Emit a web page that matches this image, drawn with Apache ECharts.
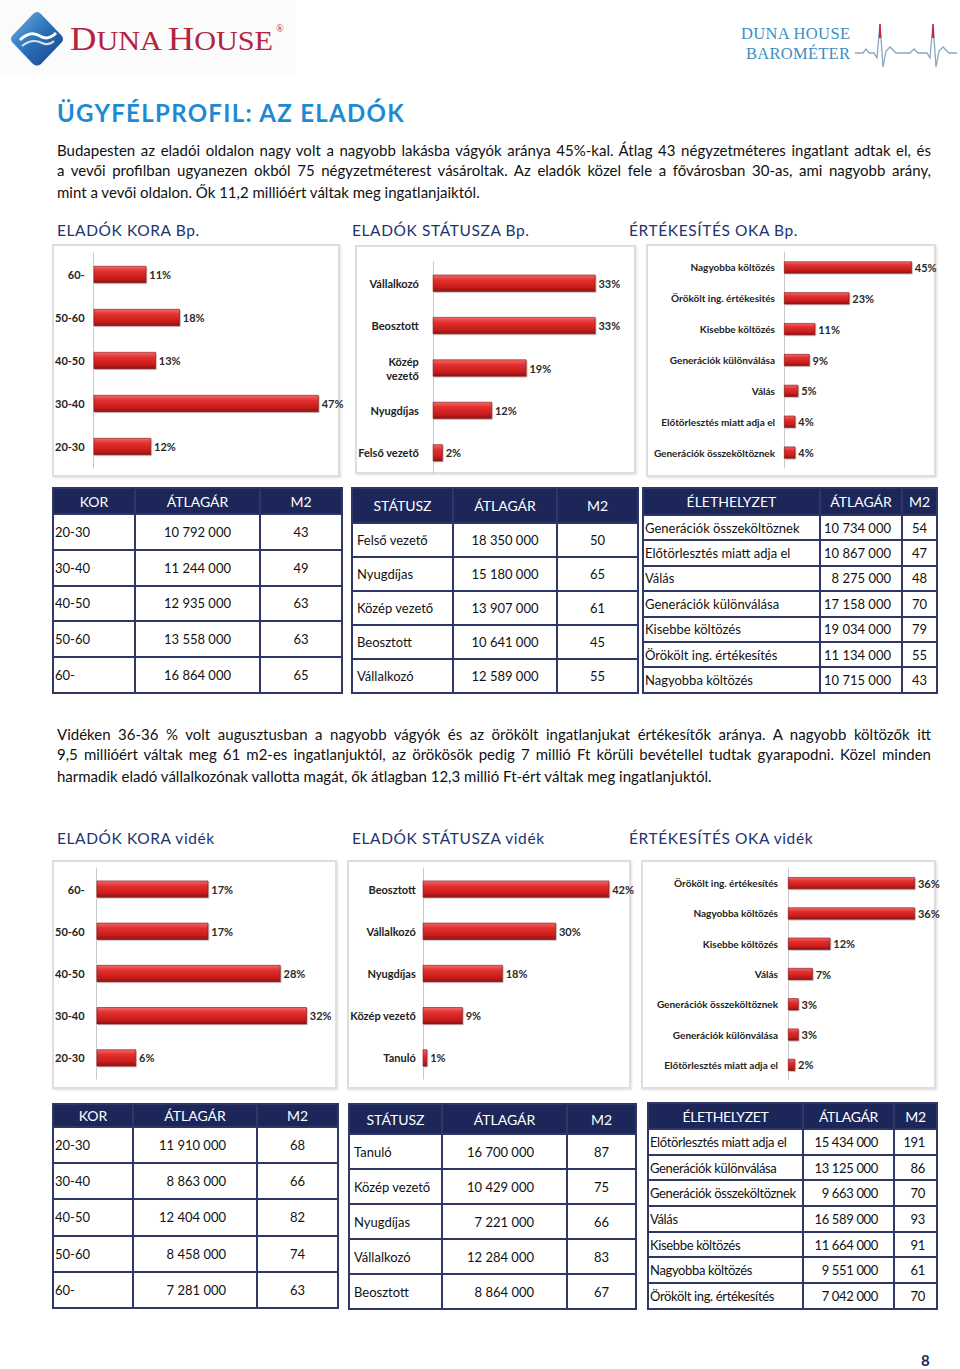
<!DOCTYPE html>
<html><head><meta charset="utf-8">
<script src="https://cdn.jsdelivr.net/npm/echarts@6/dist/echarts.min.js"></script>
<style>
html,body{margin:0;padding:0;background:#fff;}
body{width:960px;height:1369px;position:relative;overflow:hidden;font-family:Lato,"Open Sans",sans-serif;color:#111;}
.abs{position:absolute;}
.line{position:absolute;left:57px;width:874px;font-size:15px;line-height:21px;height:21px;white-space:nowrap;text-align:justify;text-align-last:justify;}
.line.last{text-align-last:left;}
.sec{position:absolute;font-size:15.5px;line-height:18px;color:#22336e;white-space:nowrap;letter-spacing:0.6px;}
.panel{position:absolute;border:2px solid #dedede;box-sizing:border-box;box-shadow:1px 1px 2px rgba(0,0,0,0.12);background:#fff;}
.chart{position:absolute;}
table.t{position:absolute;border-collapse:collapse;table-layout:fixed;font-size:13px;color:#111;}
table.t td,table.t th{border:2px solid #2e3765;padding:0;white-space:nowrap;overflow:visible;}
table.t th{background:#1c2659;color:#fff;font-weight:normal;font-size:14px;text-align:center;}
</style></head>
<body>
<!-- header logos -->
<div class="abs" style="left:0;top:0;width:296px;height:76px;background:#fbfbfb;"></div>
<svg class="abs" style="left:0;top:0" width="960" height="80">
  <defs>
    <linearGradient id="dg" x1="0" y1="0" x2="1" y2="1">
      <stop offset="0" stop-color="#6fb2e6"/><stop offset="0.5" stop-color="#2a6fb8"/><stop offset="1" stop-color="#173f86"/>
    </linearGradient>
  </defs>
  <path d="M37,12 Q39,12 41,14 L62,36 Q64,39 62,42 L41,64 Q37,67 33,64 L12,42 Q10,39 12,36 L33,14 Q35,12 37,12 Z" fill="url(#dg)"/>
  <path d="M20,40 Q30,30 40,36 Q48,41 56,33" stroke="#fff" stroke-width="3" fill="none"/>
  <path d="M22,46 Q32,38 42,43 Q49,46 54,41" stroke="#fff" stroke-width="2" fill="none" opacity="0.8"/>
  <text x="70" y="50" font-family="'Liberation Serif','DejaVu Serif',serif" fill="#b3243f" textLength="203" lengthAdjust="spacingAndGlyphs"><tspan font-size="34">D</tspan><tspan font-size="28">UNA </tspan><tspan font-size="34">H</tspan><tspan font-size="28">OUSE</tspan></text>
  <text x="276" y="32" font-family="'Liberation Serif',serif" font-size="10" fill="#b3243f">®</text>
  <text x="741" y="39" font-family="'Liberation Serif','DejaVu Serif',serif" font-size="16.5" fill="#3b8fc2" textLength="109">DUNA HOUSE</text>
  <text x="746" y="59" font-family="'Liberation Serif','DejaVu Serif',serif" font-size="16.5" fill="#3b8fc2" textLength="104">BAROMÉTER</text>
  <path d="M855,53 L863,53 L866,49 L869,53 L874,53 L877,58 L880,24 L883,67 L886,51 L890,47 L896,53 L910,53 L914,49 L918,53 L927,53 L930,58 L933,24 L936,67 L939,51 L943,47 L949,53 L957,53" stroke="#8aa6bf" stroke-width="1.3" fill="none"/>
  <path d="M879.5,38 L880,24 L880.6,38" stroke="#c8283c" stroke-width="1.5" fill="none"/>
  <path d="M932.5,38 L933,24 L933.6,38" stroke="#c8283c" stroke-width="1.5" fill="none"/>
</svg>

<div class="abs" style="left:57px;top:98px;font-size:24px;line-height:30px;font-weight:bold;color:#1d8ad2;white-space:nowrap;letter-spacing:1.3px;">ÜGYFÉLPROFIL: AZ ELADÓK</div>

<div class="line" style="top:140px">Budapesten az eladói oldalon nagy volt a nagyobb lakásba vágyók aránya 45%-kal. Átlag 43 négyzetméteres ingatlant adtak el, és</div>
<div class="line" style="top:160px">a vevői profilban ugyanezen okból 75 négyzetméterest vásároltak. Az eladók közel fele a fővárosban 30-as, ami nagyobb arány,</div>
<div class="line last" style="top:182px">mint a vevői oldalon. Ők 11,2 millióért váltak meg ingatlanjaiktól.</div>

<div class="sec" style="left:57px;top:221px">ELADÓK KORA Bp.</div>
<div class="sec" style="left:352px;top:221px">ELADÓK STÁTUSZA Bp.</div>
<div class="sec" style="left:629px;top:221px">ÉRTÉKESÍTÉS OKA Bp.</div>

<div class="panel" style="left:52px;top:244px;width:288px;height:233px"></div>
<div class="panel" style="left:355px;top:245px;width:281px;height:229px"></div>
<div class="panel" style="left:646px;top:244px;width:290px;height:233px"></div>
<div id="c1" class="chart" style="left:52px;top:244px;width:318px;height:233px"></div>
<div id="c2" class="chart" style="left:355px;top:245px;width:311px;height:229px"></div>
<div id="c3" class="chart" style="left:646px;top:244px;width:312px;height:233px"></div>

<div id="tables"></div>

<div class="line" style="top:724px">Vidéken 36-36 % volt augusztusban a nagyobb vágyók és az örökölt ingatlanjukat értékesítők aránya. A nagyobb költözők itt</div>
<div class="line" style="top:744px">9,5 millióért váltak meg 61 m2-es ingatlanjuktól, az örökösök pedig 7 millió Ft körüli bevétellel tudtak gyarapodni. Közel minden</div>
<div class="line last" style="top:766px">harmadik eladó vállalkozónak vallotta magát, ők átlagban 12,3 millió Ft-ért váltak meg ingatlanjuktól.</div>

<div class="sec" style="left:57px;top:829px">ELADÓK KORA vidék</div>
<div class="sec" style="left:352px;top:829px">ELADÓK STÁTUSZA vidék</div>
<div class="sec" style="left:629px;top:829px">ÉRTÉKESÍTÉS OKA vidék</div>

<div class="panel" style="left:52px;top:860px;width:285px;height:229px"></div>
<div class="panel" style="left:347px;top:860px;width:284px;height:229px"></div>
<div class="panel" style="left:641px;top:860px;width:295px;height:229px"></div>
<div id="c4" class="chart" style="left:52px;top:860px;width:315px;height:229px"></div>
<div id="c5" class="chart" style="left:347px;top:860px;width:314px;height:229px"></div>
<div id="c6" class="chart" style="left:641px;top:860px;width:317px;height:229px"></div>

<div class="abs" style="left:921px;top:1351px;font-size:15px;line-height:18px;color:#1c2659;font-weight:bold;">8</div>

<script>
// ---------- Budapest charts ----------
const bpAgeCats = ['60-', '50-60', '40-50', '30-40', '20-30'];
const bpAgeVals = [11, 18, 13, 47, 12];
const bpStatusCats = ['Vállalkozó', 'Beosztott', 'Közép\nvezető', 'Nyugdíjas', 'Felső vezető'];
const bpStatusVals = [33, 33, 19, 12, 2];
const bpReasonCats = ['Nagyobba költözés', 'Örökölt ing. értékesités', 'Kisebbe költözés', 'Generációk különválása', 'Válás', 'Előtörlesztés miatt adja el', 'Generációk összeköltöznek'];
const bpReasonVals = [45, 23, 11, 9, 5, 4, 4];

// ---------- Vidék charts ----------
const vAgeCats = ['60-', '50-60', '40-50', '30-40', '20-30'];
const vAgeVals = [17, 17, 28, 32, 6];
const vStatusCats = ['Beosztott', 'Vállalkozó', 'Nyugdíjas', 'Közép vezető', 'Tanuló'];
const vStatusVals = [42, 30, 18, 9, 1];
const vReasonCats = ['Örökölt ing. értékesítés', 'Nagyobba költözés', 'Kisebbe költözés', 'Válás', 'Generációk összeköltöznek', 'Generációk különválása', 'Előtörlesztés miatt adja el'];
const vReasonVals = [36, 36, 12, 7, 3, 3, 2];

// ---------- Budapest tables ----------
const bpAgeTblKor = ['20-30', '30-40', '40-50', '50-60', '60-'];
const bpAgeTblAr = ['10 792 000', '11 244 000', '12 935 000', '13 558 000', '16 864 000'];
const bpAgeTblM2 = [43, 49, 63, 63, 65];
const bpStatTblName = ['Felső vezető', 'Nyugdíjas', 'Közép vezető', 'Beosztott', 'Vállalkozó'];
const bpStatTblAr = ['18 350 000', '15 180 000', '13 907 000', '10 641 000', '12 589 000'];
const bpStatTblM2 = [50, 65, 61, 45, 55];
const bpReasonTblName = ['Generációk összeköltöznek', 'Előtörlesztés miatt adja el', 'Válás', 'Generációk különválása', 'Kisebbe költözés', 'Örökölt ing. értékesítés', 'Nagyobba költözés'];
const bpReasonTblAr = ['10 734 000', '10 867 000', '8 275 000', '17 158 000', '19 034 000', '11 134 000', '10 715 000'];
const bpReasonTblM2 = [54, 47, 48, 70, 79, 55, 43];

// ---------- Vidék tables ----------
const vAgeTblKor = ['20-30', '30-40', '40-50', '50-60', '60-'];
const vAgeTblAr = ['11 910 000', '8 863 000', '12 404 000', '8 458 000', '7 281 000'];
const vAgeTblM2 = [68, 66, 82, 74, 63];
const vStatTblName = ['Tanuló', 'Közép vezető', 'Nyugdíjas', 'Vállalkozó', 'Beosztott'];
const vStatTblAr = ['16 700 000', '10 429 000', '7 221 000', '12 284 000', '8 864 000'];
const vStatTblM2 = [87, 75, 66, 83, 67];
const vReasonTblName = ['Előtörlesztés miatt adja el', 'Generációk különválása', 'Generációk összeköltöznek', 'Válás', 'Kisebbe költözés', 'Nagyobba költözés', 'Örökölt ing. értékesítés'];
const vReasonTblAr = ['15 434 000', '13 125 000', '9 663 000', '16 589 000', '11 664 000', '9 551 000', '7 042 000'];
const vReasonTblM2 = [191, 86, 70, 93, 91, 61, 70];

const headAge = ['KOR', 'ÁTLAGÁR', 'M2'];
const headStat = ['STÁTUSZ', 'ÁTLAGÁR', 'M2'];
const headReason = ['ÉLETHELYZET', 'ÁTLAGÁR', 'M2'];

const barGrad = new echarts.graphic.LinearGradient(0, 0, 0, 1, [
  {offset: 0, color: '#f26a6a'},
  {offset: 0.3, color: '#e3302f'},
  {offset: 0.75, color: '#c81c1c'},
  {offset: 1, color: '#8e1212'}
]);

function barChart(id, cats, vals, o) {
  const c = echarts.init(document.getElementById(id), null, {renderer: 'svg'});
  c.setOption({
    animation: false,
    grid: {left: o.left, top: o.top, width: o.width, height: o.height},
    xAxis: {type: 'value', min: 0, max: o.max, show: false},
    yAxis: {
      type: 'category', data: cats, inverse: true,
      axisLine: {show: true, lineStyle: {color: '#c9c9c9', width: 1}},
      axisTick: {show: false},
      axisLabel: {color: '#222', fontWeight: 'bold', fontSize: o.fs || 11, fontFamily: 'Lato, sans-serif', margin: o.margin, lineHeight: 14, align: 'right'}
    },
    series: [{
      type: 'bar', data: vals, barWidth: o.bw,
      itemStyle: {color: barGrad, borderColor: '#7e1010', borderWidth: 0.6, shadowColor: 'rgba(0,0,0,0.25)', shadowBlur: 1, shadowOffsetX: 1, shadowOffsetY: 1},
      label: {show: true, position: 'right', distance: 3, formatter: '{c}%', color: '#2a2a2a', fontWeight: 'bold', fontSize: 11, fontFamily: 'Lato, sans-serif'}
    }]
  });
}

barChart('c1', bpAgeCats, bpAgeVals, {left: 41, top: 9, width: 240, height: 215, max: 50, bw: 17, margin: 9});
barChart('c2', bpStatusCats, bpStatusVals, {left: 71, top: 17, width: 204, height: 215, max: 40, bw: 17, margin: 14});
barChart('c3', bpReasonCats, bpReasonVals, {left: 138, top: 8, width: 142, height: 216, max: 50, bw: 12, margin: 9, fs: 10});
barChart('c4', vAgeCats, vAgeVals, {left: 40, top: 8, width: 234.5, height: 211, max: 35, bw: 17, margin: 12});
barChart('c5', vStatusCats, vStatusVals, {left: 73, top: 8, width: 202.5, height: 211, max: 45, bw: 17, margin: 7});
barChart('c6', vReasonCats, vReasonVals, {left: 147, top: 8, width: 141, height: 212, max: 40, bw: 12, margin: 10, fs: 10});

function table(x, y, colW, headH, rowH, heads, cols, aligns, ls) {
  const t = document.createElement('table');
  t.className = 't';
  t.style.left = x + 'px';
  t.style.top = y + 'px';
  t.style.width = colW.reduce((a, b) => a + b, 0) + 'px';
  if (ls) t.style.letterSpacing = ls + 'px';
  let h = '<colgroup>' + colW.map(w => '<col style="width:' + w + 'px">').join('') + '</colgroup>';
  h += '<tr style="height:' + headH + 'px">' + heads.map(s => '<th>' + s + '</th>').join('') + '</tr>';
  for (let r = 0; r < cols[0].length; r++) {
    h += '<tr style="height:' + rowH + 'px">';
    for (let c = 0; c < cols.length; c++) {
      const a = aligns[c];
      h += '<td style="text-align:' + a[0] + ';padding-left:' + (a[1] || 0) + 'px;padding-right:' + (a[2] || 0) + 'px">' + cols[c][r] + '</td>';
    }
    h += '</tr>';
  }
  t.innerHTML = h;
  document.getElementById('tables').appendChild(t);
}

table(52, 487, [82, 125, 82], 26, 35.8, headAge, [bpAgeTblKor, bpAgeTblAr, bpAgeTblM2], [['left', 1], ['center'], ['center']]);
table(351, 487, [101, 104, 81], 35, 34, headStat, [bpStatTblName, bpStatTblAr, bpStatTblM2], [['left', 4], ['center'], ['center']]);
table(642, 487, [177, 82, 35], 27, 25.4, headReason, [bpReasonTblName, bpReasonTblAr, bpReasonTblM2], [['left', 1], ['right', 0, 10], ['right', 0, 9]]);

table(52, 1103, [80, 124, 81], 23, 36.2, headAge, [vAgeTblKor, vAgeTblAr, vAgeTblM2], [['left', 1], ['right', 0, 30], ['center']]);
table(348, 1103, [93, 125, 69], 30, 35, headStat, [vStatTblName, vStatTblAr, vStatTblM2], [['left', 4], ['right', 0, 32], ['center']]);
table(647, 1102, [155, 91, 43], 26, 25.7, headReason, [vReasonTblName, vReasonTblAr, vReasonTblM2], [['left', 1], ['right', 0, 15], ['right', 0, 11]], -0.35);
</script>
</body></html>
